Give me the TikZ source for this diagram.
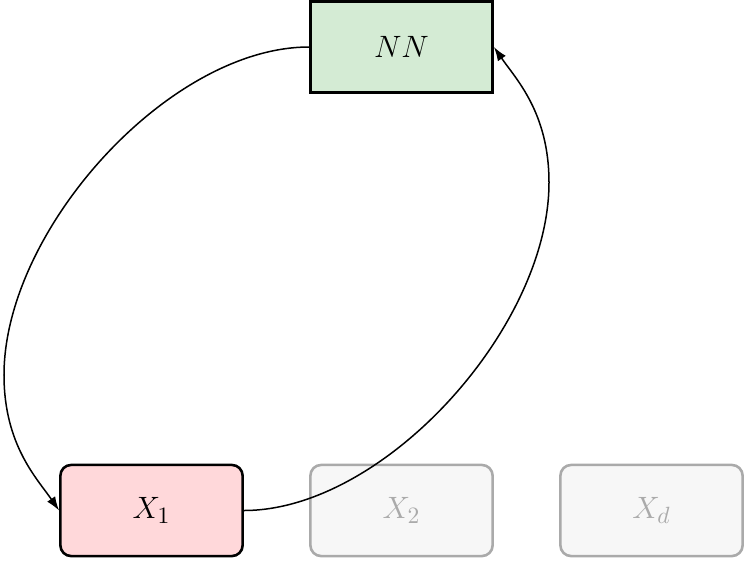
\documentclass[tikz,border=0pt]{standalone}
\usetikzlibrary{calc,arrows.meta}
\definecolor{nnfill}{RGB}{212,235,212}
\definecolor{xfill}{RGB}{255,216,218}
\definecolor{gfill}{RGB}{247,247,247}
\definecolor{gline}{RGB}{170,170,170}
\begin{document}
\begin{tikzpicture}[x=0.4664pt,y=-0.4664pt,
  box/.style={draw=black,line width=1.2pt,minimum width=85pt,minimum height=42.5pt,inner sep=0pt,font=\fontsize{15}{18}\selectfont},
  nnbox/.style={box,fill=nnfill},
  xbox/.style={box,fill=xfill,rounded corners=5pt},
  ghost/.style={box,draw=gline,fill=gfill,text=gline,rounded corners=5pt},
  link/.style={line width=0.7pt,-{Latex[length=6.5pt,width=4.5pt]}}]
\useasboundingbox (0,0) rectangle (747,560);
\node[nnbox] (nn) at (401.5,47) {$NN$};
\node[xbox] (x1) at (151.5,510.5) {$X_1$};
\node[ghost] (x2) at (401.5,510.5) {$X_2$};
\node[ghost] (xd) at (651.5,510.5) {$X_d$};
\coordinate (lw) at (4,375);
\coordinate (re) at (549,182.5);
\draw[link] (nn.west) .. controls ($(nn.west)+(-140,0)$) and ($(lw)+(0,-145)$) .. (lw)
  .. controls ($(lw)+(0,70)$) and ($(x1.west)+(-22,-32)$) .. (x1.west);
\draw[link] (x1.east) .. controls ($(x1.east)+(140,0)$) and ($(re)+(0,145)$) .. (re)
  .. controls ($(re)+(0,-70)$) and ($(nn.east)+(22,32)$) .. (nn.east);
\end{tikzpicture}
\end{document}
